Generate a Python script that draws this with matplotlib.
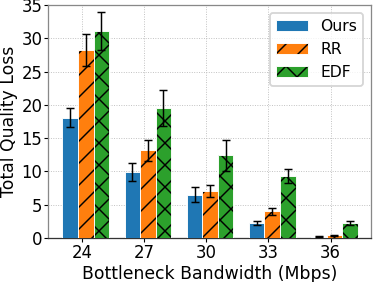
import matplotlib
matplotlib.use("Agg")
import matplotlib.pyplot as plt
import numpy as np

DPI = 132
plt.rcParams['hatch.linewidth'] = 0.8
plt.rcParams['hatch.color'] = 'black'

categories = ["24", "27", "30", "33", "36"]
ours = [18.1, 9.9, 6.5, 2.3, 0.2]
ours_err = [1.4, 1.3, 1.1, 0.3, 0.1]
rr = [28.3, 13.2, 7.1, 4.0, 0.4]
rr_err = [2.4, 1.6, 0.9, 0.5, 0.1]
edf = [31.1, 19.5, 12.4, 9.3, 2.3]
edf_err = [2.8, 2.7, 2.3, 1.1, 0.3]

fig, ax = plt.subplots(figsize=(374 / DPI, 282 / DPI), dpi=DPI)
x = np.arange(len(categories))
w = 0.25
off = 0.06
kw = dict(edgecolor='white', linewidth=0.5, capsize=2.3,
          error_kw=dict(elinewidth=0.8, ecolor='black', capthick=0.8))
b1 = ax.bar(x + off - w, ours, w, yerr=ours_err, color='#1f77b4', label='Ours', zorder=3, **kw)
b2 = ax.bar(x + off, rr, w, yerr=rr_err, color='#ff7f0e', hatch='//', label='RR', zorder=3, **kw)
b3 = ax.bar(x + off + w, edf, w, yerr=edf_err, color='#2ca02c', hatch='xx', label='EDF', zorder=3, **kw)
for bars in (b2, b3):
    for b in bars:
        b._hatch_color = (0, 0, 0, 1)

ax.set_xticks(x)
ax.set_xticklabels(categories)
ax.set_xlim(-0.55, 4.65)
ax.set_ylim(0, 35)
ax.set_yticks([0, 5, 10, 15, 20, 25, 30, 35])
ax.tick_params(labelsize=9, length=2, pad=1, width=0.6, colors='black')
ax.set_xlabel("Bottleneck Bandwidth (Mbps)", fontsize=9.4, labelpad=2)
ax.set_ylabel("Total Quality Loss", fontsize=9.4, labelpad=2)
ax.grid(True, linestyle=':', color='#bbbbbb', linewidth=0.5, zorder=0)
for s in ax.spines.values():
    s.set_color('#888888')
    s.set_linewidth(0.7)
ax.spines['bottom'].set_color('#333333')
ax.legend(fontsize=8.5, loc='upper right', handlelength=2.0, borderaxespad=0.5)
fig.subplots_adjust(left=0.128, right=0.992, top=0.982, bottom=0.156)
fig.savefig("out.png", dpi=DPI)
